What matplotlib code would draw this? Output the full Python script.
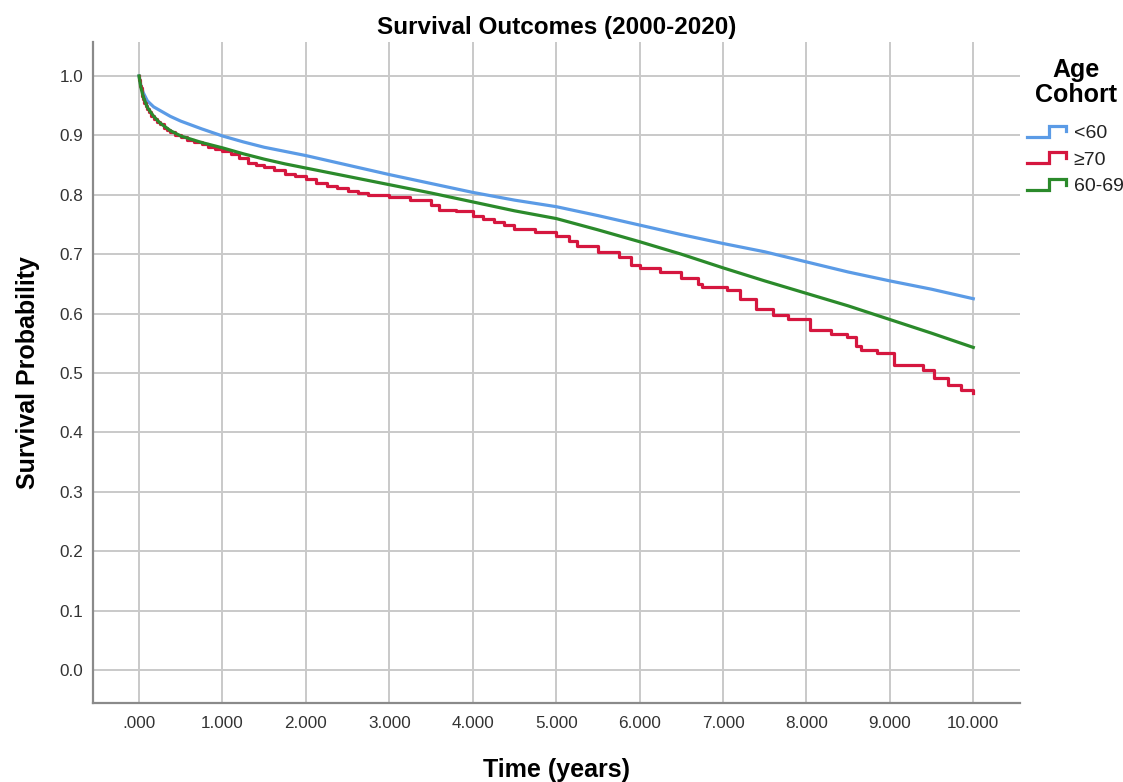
import numpy as np
import matplotlib
matplotlib.use("Agg")
import matplotlib.pyplot as plt
from matplotlib.lines import Line2D
from matplotlib.legend_handler import HandlerBase

plt.rcParams['font.family'] = ['Liberation Sans', 'DejaVu Sans']

# ---- data ----
t_lt60 = [0, 0.02, 0.05, 0.1, 0.175, 0.25, 0.375, 0.5, 0.75, 1.0, 1.25, 1.5, 1.75,
          2.0, 2.5, 3.0, 3.5, 4.0, 4.5, 5.0, 5.5, 6.0, 6.5, 7.0, 7.5, 8.0, 8.5,
          9.0, 9.5, 10.0]
s_lt60 = [1.0, 0.985, 0.972, 0.958, 0.948, 0.942, 0.932, 0.924, 0.911, 0.899, 0.889,
          0.880, 0.873, 0.866, 0.850, 0.834, 0.819, 0.804, 0.791, 0.780, 0.765,
          0.749, 0.733, 0.718, 0.704, 0.687, 0.670, 0.655, 0.641, 0.625]

t_6069 = [0, 0.02, 0.05, 0.1, 0.175, 0.25, 0.375, 0.5, 0.75, 1.0, 1.25, 1.5, 1.75,
          2.0, 2.5, 3.0, 3.5, 4.0, 4.5, 5.0, 5.5, 6.0, 6.5, 7.0, 7.5, 8.0, 8.5,
          9.0, 9.5, 10.0]
s_6069 = [1.0, 0.982, 0.965, 0.947, 0.932, 0.921, 0.908, 0.899, 0.888, 0.879, 0.869,
          0.860, 0.852, 0.845, 0.831, 0.817, 0.803, 0.788, 0.773, 0.760, 0.741,
          0.721, 0.700, 0.677, 0.655, 0.634, 0.613, 0.590, 0.567, 0.543]

t_ge70 = [0, 0.005, 0.01, 0.015, 0.02, 0.03, 0.04, 0.05, 0.065, 0.08, 0.1, 0.12,
          0.145, 0.175, 0.21, 0.25, 0.3, 0.34, 0.375, 0.43, 0.5, 0.58, 0.66, 0.75,
          0.83, 0.91, 1.0, 1.1, 1.2, 1.3, 1.4, 1.5, 1.62,
          1.75, 1.87, 2.0, 2.12, 2.25, 2.37, 2.5, 2.62, 2.75, 3.0, 3.25, 3.5, 3.6,
          3.8, 4.0, 4.12, 4.25, 4.37, 4.5, 4.75, 5.0, 5.15, 5.25, 5.5, 5.75, 5.9,
          6.0, 6.25, 6.5, 6.7, 6.75, 7.05, 7.2, 7.4, 7.6, 7.78, 8.04, 8.3, 8.49,
          8.6, 8.65, 8.85, 9.05, 9.4, 9.53, 9.7, 9.85, 10.0]
s_ge70 = [1.0, 0.994, 0.988, 0.983, 0.979, 0.972, 0.966, 0.961, 0.955, 0.950, 0.944,
          0.939, 0.933, 0.928, 0.923, 0.919, 0.913, 0.909, 0.905, 0.901, 0.897,
          0.892, 0.889, 0.885, 0.881, 0.877, 0.873, 0.868, 0.862,
          0.853, 0.850, 0.847, 0.841, 0.835, 0.831, 0.826, 0.820, 0.815, 0.811,
          0.807, 0.803, 0.800, 0.796, 0.792, 0.783, 0.775, 0.772, 0.764, 0.760,
          0.755, 0.749, 0.742, 0.737, 0.731, 0.722, 0.713, 0.703, 0.695, 0.681,
          0.677, 0.670, 0.660, 0.649, 0.645, 0.640, 0.625, 0.607, 0.598, 0.591,
          0.572, 0.565, 0.561, 0.545, 0.539, 0.534, 0.514, 0.505, 0.491, 0.480,
          0.471, 0.467]

x_ticks = [0, 1, 2, 3, 4, 5, 6, 7, 8, 9, 10]
x_ticklabels = ['.000', '1.000', '2.000', '3.000', '4.000', '5.000', '6.000',
                '7.000', '8.000', '9.000', '10.000']
y_ticks = [0.0, 0.1, 0.2, 0.3, 0.4, 0.5, 0.6, 0.7, 0.8, 0.9, 1.0]
y_ticklabels = ['0.0', '0.1', '0.2', '0.3', '0.4', '0.5', '0.6', '0.7', '0.8', '0.9', '1.0']

legend_title = 'Age\nCohort'
legend_labels = ['<60', '≥70', '60-69']

c_blue = '#5b9be6'
c_red = '#d5173f'
c_green = '#2b8a2b'


class StepHandler(HandlerBase):
    def create_artists(self, legend, orig_handle, xdescent, ydescent, width, height,
                       fontsize, trans):
        xs = np.array([0, 0.57, 0.57, 1.0, 1.0]) * width - xdescent
        ys = np.array([0.05, 0.05, 0.95, 0.95, 0.5]) * height - ydescent
        ln = Line2D(xs, ys, color=orig_handle.get_color(),
                    lw=orig_handle.get_linewidth(), solid_joinstyle='miter')
        ln.set_transform(trans)
        return [ln]


fig = plt.figure(figsize=(11.23, 7.82), dpi=100)
ax = fig.add_axes([93 / 1123, 1 - 703 / 782, (1020 - 93) / 1123, (703 - 42) / 782])

ax.set_xlim(-0.552, 10.56)
ax.set_ylim(-0.0556, 1.0572)

ax.set_xticks(x_ticks)
ax.set_xticklabels(x_ticklabels)
ax.set_yticks(y_ticks)
ax.set_yticklabels(y_ticklabels)
ax.tick_params(axis='both', length=0, labelsize=12.3, labelcolor='#333333')
ax.tick_params(axis='x', pad=9.5)
ax.tick_params(axis='y', pad=7)

ax.grid(True, color='#c9c9c9', linewidth=1.4)
ax.set_axisbelow(True)
for side in ['top', 'right']:
    ax.spines[side].set_visible(False)
for side in ['left', 'bottom']:
    ax.spines[side].set_color('#8a8a8a')
    ax.spines[side].set_linewidth(1.6)

lw = 2.3
l1, = ax.plot(t_lt60, s_lt60, color=c_blue, lw=lw)
l2, = ax.plot(t_ge70, s_ge70, color=c_red, lw=lw, drawstyle='steps-post')
l3, = ax.plot(t_6069, s_6069, color=c_green, lw=lw)

ax.set_title('Survival Outcomes (2000-2020)', fontsize=17.5, fontweight='bold', pad=6)
ax.set_xlabel('Time (years)', fontsize=18, fontweight='bold', labelpad=19)
ax.set_ylabel('Survival Probability', fontsize=18, fontweight='bold', labelpad=14)

fig.text(1076 / 1123, 1 - 58 / 782, legend_title, ha='center', va='top',
         multialignment='center', fontsize=18, fontweight='bold', linespacing=1.05)

leg = fig.legend(handles=[l1, l2, l3], labels=legend_labels,
                 handler_map={Line2D: StepHandler()},
                 loc='upper left', bbox_to_anchor=(1025 / 1123, 1 - 123 / 782),
                 frameon=False, fontsize=14,
                 handlelength=2.0, handleheight=0.6, handletextpad=0.4,
                 labelspacing=0.5, borderaxespad=0, borderpad=0.1)
for txt in leg.get_texts():
    txt.set_color('#222222')

fig.savefig('out.png', dpi=100)
